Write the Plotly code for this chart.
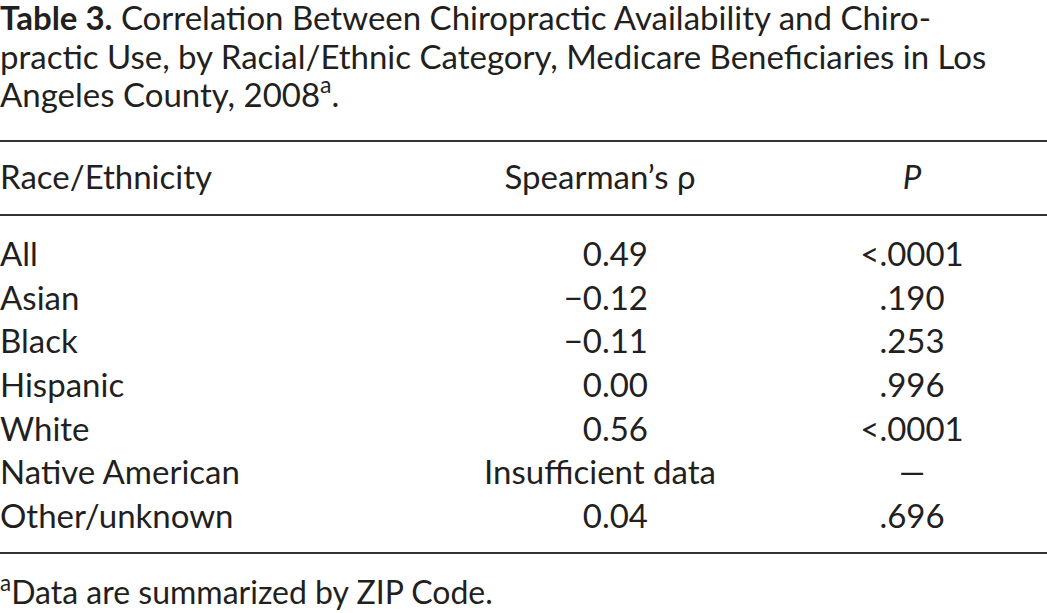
import plotly.graph_objects as go

# Table content
title_lines = [
    "<b>Table 3.</b> Correlation Between Chiropractic Availability and Chiro-",
    "practic Use, by Racial/Ethnic Category, Medicare Beneficiaries in Los",
    "Angeles County, 2008<sup>a</sup>.",
]
headers = ["Race/Ethnicity", "Spearman’s ρ", "<i>P</i>"]
groups = ["All", "Asian", "Black", "Hispanic", "White", "Native American", "Other/unknown"]
rho = ["0.49", "−0.12", "−0.11", "0.00", "0.56", "Insufficient data", "0.04"]
p_values = ["<.0001", ".190", ".253", ".996", "<.0001", "—", ".696"]
footnote = "<sup>a</sup>Data are summarized by ZIP Code."

FONT = "Lato, 'Open Sans', sans-serif"
INK = "#231f20"
SIZE = 33
ROW = 43.6  # pixel height of one body row
FIRST = 258  # pixel centre of first body row
H, W = 613, 1047

# column anchors (pixels)
COL_LABEL, COL_RHO, COL_RHO_MID, COL_P = 0, 648, 600, 912


def px(yp):
    # pixel row -> row-unit coordinate on the y axis
    return (yp - FIRST) / ROW


def text_trace(x, y, text, pos, size=SIZE):
    return go.Scatter(x=x, y=y, text=text, mode="text", textposition=pos,
                      cliponaxis=False,
                      textfont=dict(family=FONT, size=size, color=INK))


rows = list(range(len(groups)))
rho_pos = ["middle center" if not any(c.isdigit() for c in v) else "middle left" for v in rho]
rho_x = [COL_RHO_MID if p == "middle center" else COL_RHO for p in rho_pos]

fig = go.Figure()

# body columns
fig.add_trace(text_trace([COL_LABEL] * len(groups), rows, groups, "middle right"))
fig.add_trace(text_trace(rho_x, rows, rho, rho_pos))
fig.add_trace(text_trace([COL_P] * len(groups), rows, p_values, "middle center"))

# header row
header_y = px(181)
fig.add_trace(text_trace([COL_LABEL, COL_RHO_MID, COL_P], [header_y] * 3, headers,
                         ["middle right", "middle center", "middle center"]))

# title, one text per line
fig.add_trace(text_trace([COL_LABEL] * len(title_lines),
                         [px(22 + i * 38.5) for i in range(len(title_lines))],
                         title_lines, "middle right"))

# footnote
fig.add_trace(text_trace([COL_LABEL], [px(596)], [footnote], "middle right", SIZE - 1))

# horizontal rules
for yp in (141, 215, 553):
    fig.add_shape(type="line", xref="paper", yref="y", x0=0, x1=1,
                  y0=px(yp), y1=px(yp), line=dict(color="#333333", width=2))

fig.update_xaxes(range=[0, W], visible=False, fixedrange=True)
fig.update_yaxes(range=[px(H), px(0)], visible=False, fixedrange=True)
fig.update_layout(
    width=W, height=H,
    margin=dict(l=0, r=0, t=0, b=0),
    paper_bgcolor="white", plot_bgcolor="white",
    showlegend=False,
    hovermode=False,
)

fig.write_html("out.html", config={"displayModeBar": False},
               post_script="document.body.style.margin='0';")
